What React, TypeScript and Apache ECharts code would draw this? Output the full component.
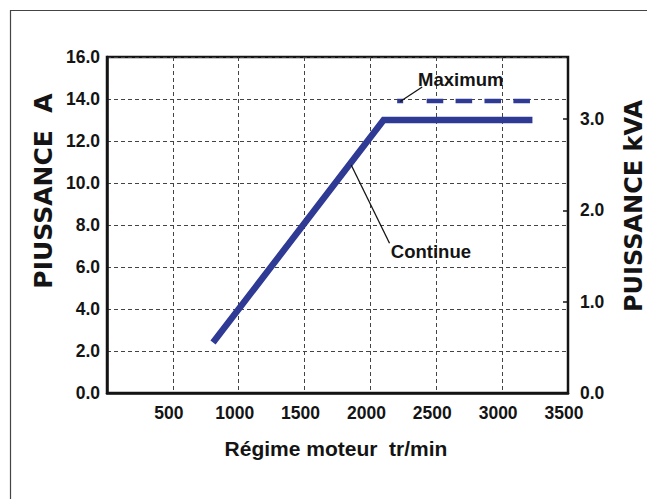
import React, { useEffect, useRef } from "react";
import * as echarts from "echarts";

// ---- data ----
const rpmContinue = [805, 2100, 3230];
const ampsContinue = [2.4, 13.0, 13.0];
const rpmMaximum = [2203, 3212];
const ampsMaximum = [13.9, 13.9];

const xMin = 0, xMax = 3500, xStep = 500;
const yMin = 0, yMax = 16, yStep = 2;
const kvaMax = 3.68, kvaStep = 1;

const xTitle = "Régime moteur  tr/min";
const yLeftTitle = "PIUSSANCE  A";
const yRightTitle = "PUISSANCE kVA";
const labelMaximum = "Maximum";
const labelContinue = "Continue";

// annotation anchor points (data space)
const maxLeader = [[2393, 14.57], [2226, 13.88]];
const maxTextPos = [2362, 14.95];
const contLeader = [[1854, 10.86], [2145, 7.13]];
const contTextPos = [2155, 6.74];

const BLUE = "#2e3a94";
const INK = "#141414";
const ARIAL = '"Liberation Sans", Arial, sans-serif';
const WIDE = '"DejaVu Sans", "Liberation Sans", sans-serif';

export default function App() {
  const ref = useRef<HTMLDivElement>(null);

  useEffect(() => {
    const chart = echarts.init(ref.current!, null, { renderer: "svg" });
    const tickFont = { fontFamily: ARIAL, fontWeight: "bold" as const, fontSize: 17.5, color: INK };
    const gridLine = { show: true, lineStyle: { color: "#444", width: 1, type: [4, 3] as number[] } };

    chart.setOption({
      animation: false,
      backgroundColor: "#fff",
      grid: { left: 107, right: 79, top: 57, bottom: 106, show: true, borderColor: INK, borderWidth: 2.5 },
      xAxis: {
        type: "value",
        min: xMin, max: xMax, interval: xStep,
        axisLine: { show: true, lineStyle: { color: INK, width: 2.5 } },
        axisTick: { show: false },
        splitLine: gridLine,
        axisLabel: {
          ...tickFont, margin: 11, padding: [0, 8, 0, 0],
          formatter: (v: number) => (v === 0 ? "" : String(v)),
        },
      },
      yAxis: [
        {
          type: "value",
          min: yMin, max: yMax, interval: yStep,
          axisLine: { show: true, lineStyle: { color: INK, width: 2.5 } },
          axisTick: { show: false },
          splitLine: gridLine,
          axisLabel: { ...tickFont, margin: 7, formatter: (v: number) => v.toFixed(1) },
        },
        {
          type: "value",
          position: "right",
          min: 0, max: kvaMax, interval: kvaStep,
          axisLine: { show: true, lineStyle: { color: INK, width: 2 } },
          axisTick: { show: true, inside: true, length: 5, lineStyle: { color: INK, width: 1.5 } },
          splitLine: { show: false },
          axisLabel: {
            ...tickFont, margin: 12, showMaxLabel: false,
            formatter: (v: number) => (Math.abs(v - Math.round(v)) < 1e-6 ? v.toFixed(1) : ""),
          },
        },
      ],
      series: [
        {
          name: labelContinue,
          type: "line",
          yAxisIndex: 0,
          data: rpmContinue.map((x, i) => [x, ampsContinue[i]]),
          symbol: "none",
          lineStyle: { color: BLUE, width: 6.5, cap: "butt", join: "miter" },
          z: 5,
        },
        {
          name: labelMaximum,
          type: "line",
          yAxisIndex: 0,
          data: rpmMaximum.map((x, i) => [x, ampsMaximum[i]]),
          symbol: "none",
          lineStyle: {
            color: BLUE, width: 4.5, cap: "butt",
            type: [6, 23.5, 16.6, 12.3, 16.6, 12.3, 16.6, 12.3, 16.6, 12.3, 16.6, 12.3],
          },
          z: 5,
        },
      ],
    });

    const p = (pt: number[]) => chart.convertToPixel({ xAxisIndex: 0, yAxisIndex: 0 }, pt) as number[];
    const a1 = p(maxLeader[0]), a2 = p(maxLeader[1]);
    const c1 = p(contLeader[0]), c2 = p(contLeader[1]);
    const mt = p(maxTextPos), ct = p(contTextPos);

    chart.setOption({
      graphic: {
        elements: [
          {
            type: "rect", silent: true, z: 0,
            shape: { x: 10.5, y: 10.5, width: 700, height: 600 },
            style: { fill: "none", stroke: "#444", lineWidth: 1.2 },
          },
          {
            type: "line", silent: true, z: 10,
            shape: { x1: a1[0], y1: a1[1], x2: a2[0], y2: a2[1] },
            style: { stroke: INK, lineWidth: 1.3 },
          },
          {
            type: "line", silent: true, z: 10,
            shape: { x1: c1[0], y1: c1[1], x2: c2[0], y2: c2[1] },
            style: { stroke: INK, lineWidth: 1.3 },
          },
          {
            type: "text", silent: true, z: 10, x: mt[0], y: mt[1],
            style: { text: labelMaximum, fontFamily: ARIAL, fontWeight: "bold", fontSize: 18.5, fill: INK, align: "left", verticalAlign: "middle" },
          },
          {
            type: "text", silent: true, z: 10, x: ct[0], y: ct[1],
            style: { text: labelContinue, fontFamily: ARIAL, fontWeight: "bold", fontSize: 18.5, fill: INK, align: "left", verticalAlign: "middle" },
          },
          {
            type: "text", silent: true, x: 336, y: 448,
            style: { text: xTitle, fontFamily: ARIAL, fontWeight: "bold", fontSize: 21, fill: INK, align: "center", verticalAlign: "middle" },
          },
          {
            type: "text", silent: true, x: 43, y: 191, rotation: Math.PI / 2,
            style: { text: yLeftTitle, fontFamily: WIDE, fontWeight: "bold", fontSize: 25, fill: INK, align: "center", verticalAlign: "middle" },
          },
          {
            type: "text", silent: true, x: 634, y: 206, rotation: Math.PI / 2,
            style: { text: yRightTitle, fontFamily: WIDE, fontWeight: "bold", fontSize: 24, fill: INK, align: "center", verticalAlign: "middle" },
          },
        ],
      },
    });

    return () => chart.dispose();
  }, []);

  return (
    <div
      ref={ref}
      style={{ position: "fixed", left: 0, top: 0, width: 647, height: 499, background: "#fff" }}
    />
  );
}
